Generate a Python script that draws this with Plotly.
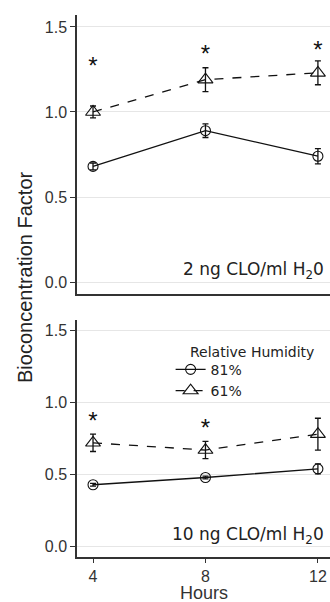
import plotly.graph_objects as go
from plotly.subplots import make_subplots

hours = [4, 8, 12]
# top panel: 2 ng CLO/ml H2O
top_81 = [0.68, 0.89, 0.74]
top_81_err = [0.02, 0.04, 0.045]
top_61 = [1.00, 1.19, 1.23]
top_61_err = [0.035, 0.07, 0.07]
top_star_x = [4, 8, 12]
top_star_y = [1.26, 1.33, 1.35]
# bottom panel: 10 ng CLO/ml H2O
bot_81 = [0.43, 0.48, 0.54]
bot_81_err = [0.01, 0.01, 0.035]
bot_61 = [0.72, 0.67, 0.78]
bot_61_err = [0.06, 0.06, 0.11]
bot_star_x = [4, 8]
bot_star_y = [0.86, 0.81]
panel_labels = ["2 ng CLO/ml H<sub>2</sub>0", "10 ng CLO/ml H<sub>2</sub>0"]
y_ticks = [0.0, 0.5, 1.0, 1.5]
y_tick_text = ["0.0", "0.5", "1.0", "1.5"]

fig = make_subplots(rows=2, cols=1)

def add_panel(row, v81, e81, v61, e61, sx, sy, show):
    fig.add_trace(go.Scatter(x=hours, y=v81, name="81%", mode="lines+markers",
                             line=dict(color="#111", width=1.3),
                             marker=dict(symbol="circle-open", size=10, color="#111", line=dict(width=1.1)),
                             error_y=dict(type="data", array=e81, color="#111", thickness=1.3, width=3),
                             showlegend=show, legendrank=1, cliponaxis=False), row=row, col=1)
    fig.add_trace(go.Scatter(x=hours, y=v61, name="61%", mode="lines+markers",
                             line=dict(color="#111", width=1.3, dash="dash"),
                             marker=dict(symbol="triangle-up-open", size=13, color="#111", line=dict(width=1.1)),
                             error_y=dict(type="data", array=e61, color="#111", thickness=1.3, width=3),
                             showlegend=show, legendrank=2, cliponaxis=False), row=row, col=1)
    fig.add_trace(go.Scatter(x=sx, y=sy, mode="text", text=["*"] * len(sx),
                             textfont=dict(size=24, color="#111", family="Liberation Sans"),
                             showlegend=False, hoverinfo="skip", cliponaxis=False), row=row, col=1)

add_panel(1, top_81, top_81_err, top_61, top_61_err, top_star_x, top_star_y, False)
add_panel(2, bot_81, bot_81_err, bot_61, bot_61_err, bot_star_x, bot_star_y, True)

for r in (1, 2):
    fig.update_yaxes(range=[-0.07, 1.57], tickvals=y_ticks, ticktext=y_tick_text,
                     showgrid=True, gridcolor="#e6e6e6", gridwidth=1, zeroline=False,
                     showline=True, linecolor="#333", linewidth=1.5, ticks="outside",
                     ticklen=5, tickcolor="#333", tickwidth=1.2,
                     tickfont=dict(size=16, color="#333", family="Liberation Sans"),
                     row=r, col=1)
    fig.update_xaxes(range=[3.43, 12.43], showgrid=False, zeroline=False,
                     showline=True, linecolor="#333", linewidth=1.5, row=r, col=1)

fig.update_yaxes(domain=[0.4852, 1.0], row=1, col=1)
fig.update_yaxes(domain=[0.0, 0.4373], row=2, col=1)
fig.update_xaxes(showticklabels=False, ticks="", row=1, col=1)
fig.update_xaxes(tickvals=hours, ticks="outside", ticklen=4, tickcolor="#333", tickwidth=1.2,
                 tickfont=dict(size=16, color="#333", family="Liberation Sans"),
                 row=2, col=1)

fig.add_annotation(text="Hours", xref="x2 domain", yref="paper", x=0.5, y=-0.088,
                   xanchor="center", yanchor="bottom", showarrow=False,
                   font=dict(size=18, color="#333", family="Liberation Sans"))
fig.add_annotation(text=panel_labels[0], xref="x domain", yref="y domain", x=0.985, y=0.035,
                   xanchor="right", yanchor="bottom", showarrow=False,
                   font=dict(size=17, color="#222", family="DejaVu Sans"))
fig.add_annotation(text=panel_labels[1], xref="x2 domain", yref="y2 domain", x=0.985, y=0.035,
                   xanchor="right", yanchor="bottom", showarrow=False,
                   font=dict(size=17, color="#222", family="DejaVu Sans"))
fig.add_annotation(text="Bioconcentration Factor", xref="paper", yref="paper",
                   x=-0.2055, y=0.5166, textangle=-90, showarrow=False, xanchor="center", yanchor="middle",
                   font=dict(size=20, color="#222", family="Liberation Sans"))
fig.add_annotation(text="Relative Humidity", xref="paper", yref="paper",
                   x=0.44, y=0.378, showarrow=False, xanchor="left", yanchor="middle",
                   font=dict(size=14, color="#222", family="DejaVu Sans"))

fig.update_layout(
    width=330, height=602, plot_bgcolor="white", paper_bgcolor="white",
    margin=dict(l=77, r=0, t=15, b=45),
    legend=dict(x=0.37, y=0.375, xanchor="left", yanchor="top", bgcolor="rgba(0,0,0,0)",
                font=dict(size=14, color="#222", family="DejaVu Sans"), itemwidth=30,
                tracegroupgap=0),
)

fig.write_html("out.html", config={"displayModeBar": False},
               post_script="document.body.style.margin='0';")
